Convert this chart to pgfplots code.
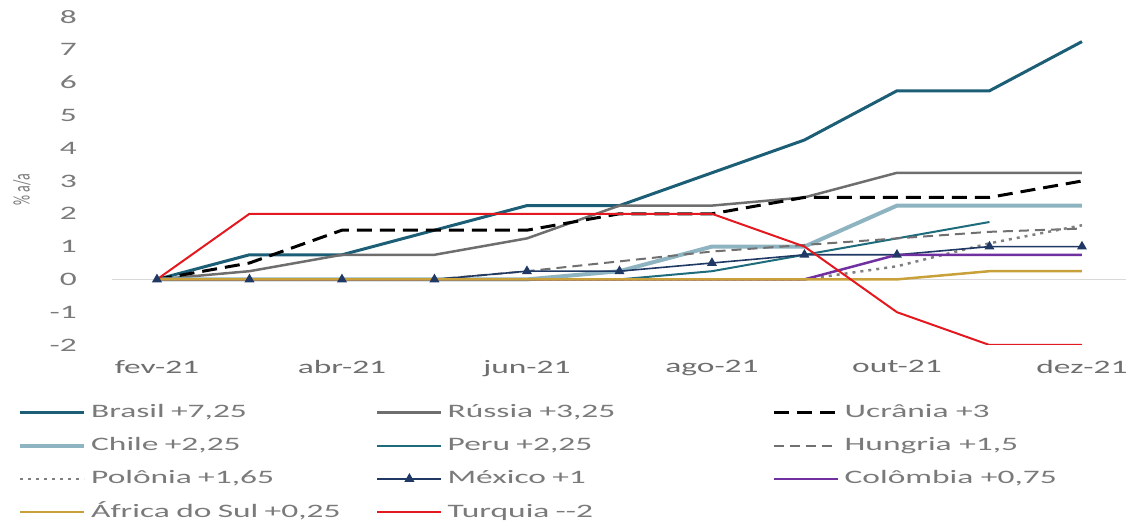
\documentclass[border=0pt]{standalone}
\usepackage{fontspec}
\setmainfont{Carlito}[FakeStretch=1.76]
\newfontfamily\plainfont{Carlito}
\usepackage{graphicx}
\usepackage{pgfplots}
\pgfplotsset{compat=1.18}
\definecolor{cBR}{HTML}{1B5E75}
\definecolor{cRU}{HTML}{6E6E6E}
\definecolor{cCL}{HTML}{8DB4C0}
\definecolor{cPE}{HTML}{1E6B7B}
\definecolor{cHU}{HTML}{707070}
\definecolor{cPL}{HTML}{7F7F7F}
\definecolor{cMX}{HTML}{1F3864}
\definecolor{cCO}{HTML}{7030A0}
\definecolor{cZA}{HTML}{C9A13B}
\definecolor{cTR}{HTML}{E3191F}
\definecolor{tickgray}{HTML}{7A7A7A}
\definecolor{zeroline}{HTML}{D9D9D9}
\begin{document}
\begin{tikzpicture}[x=1pt,y=1pt]
\useasboundingbox (0,0) rectangle (1126,521);
\begin{axis}[
  at={(112pt,176pt)}, anchor=south west,
  scale only axis, width=1014pt, height=328pt,
  xmin=-0.486, xmax=10.476, ymin=-2, ymax=8,
  axis line style={draw=none},
  major tick length=0pt,
  tick style={draw=none},
  xtick={0,2,4,6,8,10},
  xticklabels={fev-21,abr-21,jun-21,ago-21,out-21,dez-21},
  ytick={-2,-1,0,1,2,3,4,5,6,7,8},
  extra y ticks={0}, extra y tick labels={},
  extra y tick style={grid=major, major grid style={color=zeroline, line width=1.2pt}},
  /pgf/number format/assume math mode=true,
  yticklabel style={font=\fontsize{19}{22}\selectfont, text=tickgray, anchor=east, inner sep=0pt, xshift=-35pt},
  xticklabel style={font=\fontsize{19}{22}\selectfont, text=tickgray!90!black, anchor=north, inner sep=0pt, yshift=-15pt},
  ylabel={\scalebox{1}[1.7]{\plainfont\% a/a}},
  ylabel style={at={(axis description cs:-0.0888,0.4726)}, anchor=center, font=\fontsize{14}{16}\selectfont, text=tickgray},
  legend columns=3,
  legend cell align=left,
  legend image code/.code={\draw[mark repeat=2,mark phase=2,#1] plot coordinates {(0pt,0pt) (32pt,0pt) (64pt,0pt)};},
  legend style={at={(axis description cs:-0.0957,-0.1710)}, anchor=north west,
    draw=none, fill=none, font=\fontsize{19}{22}\selectfont, text=tickgray,
    column sep=0pt, row sep=15.3pt,
    nodes={inner sep=0pt, text height=14pt, text depth=4pt},
    /tikz/every odd column/.style={column sep=5pt},
    /tikz/column 2/.style={text width=285pt},
    /tikz/column 4/.style={text width=325pt}},
]
\addplot[cBR, line width=3pt] coordinates {(0,0)(1,0.75)(2,0.75)(3,1.5)(4,2.25)(5,2.25)(6,3.25)(7,4.25)(8,5.75)(9,5.75)(10,7.25)};
\addlegendentry{Brasil +7,25}
\addplot[cRU, line width=2.5pt] coordinates {(0,0)(1,0.25)(2,0.75)(3,0.75)(4,1.25)(5,2.25)(6,2.25)(7,2.5)(8,3.25)(9,3.25)(10,3.25)};
\addlegendentry{Rússia +3,25}
\addplot[black, line width=3pt, dash pattern=on 15pt off 8pt] coordinates {(0,0)(1,0.5)(2,1.5)(3,1.5)(4,1.5)(5,2)(6,2)(7,2.5)(8,2.5)(9,2.5)(10,3)};
\addlegendentry{Ucrânia +3}
\addplot[cCL, line width=4pt] coordinates {(0,0)(1,0)(2,0)(3,0)(4,0)(5,0.25)(6,1)(7,1)(8,2.25)(9,2.25)(10,2.25)};
\addlegendentry{Chile +2,25}
\addplot[cPE, line width=2pt] coordinates {(0,0)(1,0)(2,0)(3,0)(4,0)(5,0)(6,0.25)(7,0.75)(8,1.25)(9,1.75)};
\addlegendentry{Peru +2,25}
\addplot[cHU, line width=2pt, dash pattern=on 10pt off 6pt] coordinates {(0,0)(1,0)(2,0)(3,0)(4,0.25)(5,0.55)(6,0.85)(7,1.05)(8,1.25)(9,1.45)(10,1.55)};
\addlegendentry{Hungria +1,5}
\addplot[cPL, line width=2.5pt, dash pattern=on 3pt off 5pt] coordinates {(0,0)(1,0)(2,0)(3,0)(4,0)(5,0)(6,0)(7,0)(8,0.4)(9,1.1)(10,1.65)};
\addlegendentry{Polônia +1,65}
\addplot[cMX, line width=1.6pt, mark=triangle*, mark size=4.2pt, mark options={solid}] coordinates {(0,0)(1,0)(2,0)(3,0)(4,0.25)(5,0.25)(6,0.5)(7,0.75)(8,0.75)(9,1)(10,1)};
\addlegendentry{México +1}
\addplot[cCO, line width=2.5pt] coordinates {(0,0)(1,0)(2,0)(3,0)(4,0)(5,0)(6,0)(7,0)(8,0.75)(9,0.75)(10,0.75)};
\addlegendentry{Colômbia +0,75}
\addplot[cZA, line width=2.5pt] coordinates {(0,0)(1,0)(2,0)(3,0)(4,0)(5,0)(6,0)(7,0)(8,0)(9,0.25)(10,0.25)};
\addlegendentry{África do Sul +0,25}
\addplot[cTR, line width=2pt] coordinates {(0,0)(1,2)(2,2)(3,2)(4,2)(5,2)(6,2)(7,1)(8,-1)(9,-2)(10,-2)};
\addlegendentry{Turquia -{}-2}
\end{axis}
\end{tikzpicture}
\end{document}
